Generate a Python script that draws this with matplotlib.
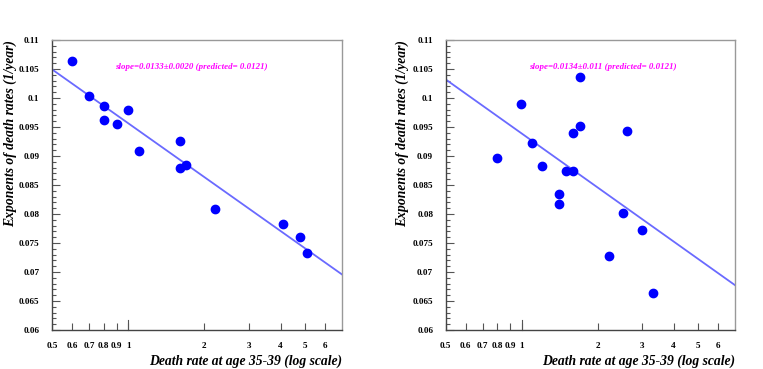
import numpy as np
import matplotlib
matplotlib.use("Agg")
import matplotlib.pyplot as plt
from matplotlib.ticker import FixedLocator, FixedFormatter, MultipleLocator

# left panel data
x_left = [0.60, 0.70, 0.80, 0.80, 0.90, 1.00, 1.10, 1.60, 1.60, 1.70, 2.20, 4.09, 4.78, 5.08]
y_left = [0.1063, 0.1004, 0.0986, 0.0962, 0.0956, 0.0979, 0.0908, 0.0926, 0.0879, 0.0884,
          0.0809, 0.0783, 0.0761, 0.0733]
# right panel data
x_right = [0.80, 0.99, 1.10, 1.20, 1.50, 1.60, 1.60, 1.70, 1.70, 2.61, 1.40, 1.40, 2.51, 3.01, 2.21, 3.31]
y_right = [0.0897, 0.0990, 0.0922, 0.0883, 0.0874, 0.0874, 0.0939, 0.0952, 0.1037, 0.0943,
           0.0834, 0.0817, 0.0801, 0.0772, 0.0728, 0.0663]

# fitted lines: y = y_at_half - slope * ln(x / 0.5)
fit_left = (0.10494, 0.0134)
fit_right = (0.1032, 0.01344)

text_left = "slope=0.0133\u00b10.0020 (predicted= 0.0121)"
text_right = "slope=0.0134\u00b10.011 (predicted= 0.0121)"

xticks = [0.5, 0.6, 0.7, 0.8, 0.9, 1, 2, 3, 4, 5, 6]
xticklabels = ["0.5", "0.6", "0.7", "0.8", "0.9", "1", "2", "3", "4", "5", "6"]
yticks = [0.06, 0.065, 0.07, 0.075, 0.08, 0.085, 0.09, 0.095, 0.1, 0.105, 0.11]
yticklabels = ["0.06", "0.065", "0.07", "0.075", "0.08", "0.085", "0.09", "0.095", "0.1", "0.105", "0.11"]

serif = "Liberation Serif"
W, H = 763, 369
fig = plt.figure(figsize=(W / 100, H / 100), dpi=100)


def panel(left_px, width_px, xs, ys, fit, txt, txt_x, ylab_x):
    ax = fig.add_axes([left_px / W, (H - 330) / H, width_px / W, 290 / H])
    ax.set_xscale("log")
    ax.set_xlim(0.5, 7.0)
    ax.set_ylim(0.06, 0.11)
    xl = np.geomspace(0.5, 7.0, 100)
    ax.plot(xl, fit[0] - fit[1] * np.log(xl / 0.5), color="#6a6aff", lw=1.3, zorder=2)
    ax.plot(xs, ys, "o", color="#0000ff", ms=6, mec="#0000ff", zorder=3)
    ax.text(txt_x, 0.1053, txt, color="#ff00ff", fontsize=6.4, fontweight="bold",
            fontstyle="italic", family=serif, ha="center", va="center")

    ax.xaxis.set_major_locator(FixedLocator(xticks))
    ax.xaxis.set_major_formatter(FixedFormatter(xticklabels))
    ax.xaxis.set_minor_locator(FixedLocator([]))
    ax.yaxis.set_major_locator(FixedLocator(yticks))
    ax.yaxis.set_major_formatter(FixedFormatter(yticklabels))
    ax.yaxis.set_minor_locator(MultipleLocator(0.001))
    ax.tick_params(axis="both", which="both", direction="in", top=False, right=False,
                   color="#555555", width=0.8)
    ax.tick_params(axis="y", which="major", length=6, pad=9)
    ax.tick_params(axis="y", which="minor", length=3)
    ax.tick_params(axis="x", which="major", length=5, pad=9)
    for lab in ax.get_xticklabels() + ax.get_yticklabels():
        lab.set_fontfamily(serif)
        lab.set_fontweight("bold")
        lab.set_fontsize(6.6)
    # longer tick at decade
    ax.plot([1, 1], [0.06, 0.0618], color="#555555", lw=0.8, clip_on=False)

    for s in ["top", "right"]:
        ax.spines[s].set_color("#999999")
    for s in ["left", "bottom"]:
        ax.spines[s].set_color("#444444")
    for s in ax.spines.values():
        s.set_linewidth(1.0)

    ax.set_xlabel("Death rate at age 35-39 (log scale)", family=serif, fontweight="bold",
                  fontstyle="italic", fontsize=9.8, loc="right")
    ax.set_ylabel("Exponents of death rates (1/year)", family=serif, fontweight="bold",
                  fontstyle="italic", fontsize=9.8, loc="top")
    ax.xaxis.set_label_coords(1.0, -25 / 290)
    ax.yaxis.set_label_coords(-(left_px - ylab_x) / width_px, 1.0)
    return ax


panel(52, 290, x_left, y_left, fit_left, text_left, 1.78, 17)
panel(445.7, 289.3, x_right, y_right, fit_right, text_right, 2.1, 409)

fig.savefig("out.png", dpi=100)
